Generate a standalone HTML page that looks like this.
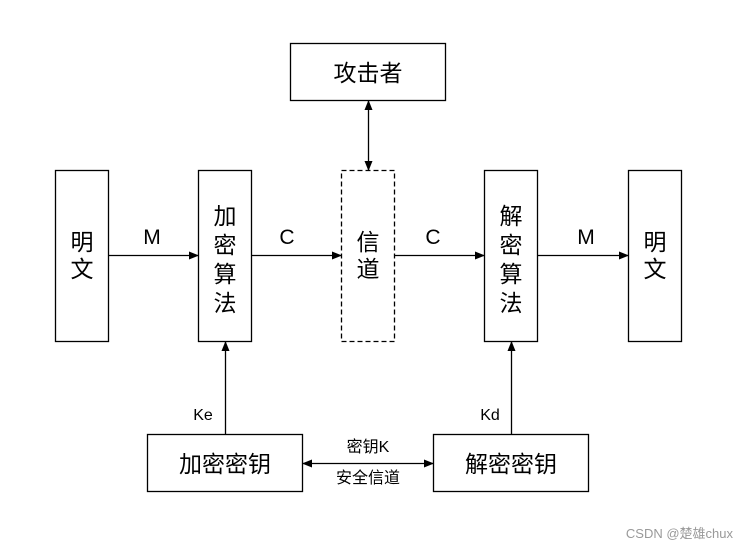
<!DOCTYPE html>
<html><head><meta charset="utf-8"><style>
html,body{margin:0;padding:0;background:#fff;}
svg text{font-family:"Liberation Sans","Noto Sans CJK SC",sans-serif;fill:#000;}
</style></head><body>
<svg width="747" height="551" viewBox="0 0 747 551" xmlns="http://www.w3.org/2000/svg">
<defs>
<marker id="a" markerWidth="10" markerHeight="8" refX="9" refY="4" orient="auto" markerUnits="userSpaceOnUse">
<path d="M0,0 L10,4 L0,8 Z" fill="#000"/></marker>
<marker id="b" markerWidth="10" markerHeight="8" refX="1" refY="4" orient="auto" markerUnits="userSpaceOnUse">
<path d="M10,0 L0,4 L10,8 Z" fill="#000"/></marker>
</defs>
<g fill="none" stroke="#000" stroke-width="1.3">
<rect x="290.5" y="43.5" width="155" height="57"/>
<rect x="55.5" y="170.5" width="53" height="171"/>
<rect x="198.5" y="170.5" width="53" height="171"/>
<rect x="341.5" y="170.5" width="53" height="171" stroke-dasharray="5,3"/>
<rect x="484.5" y="170.5" width="53" height="171"/>
<rect x="628.5" y="170.5" width="53" height="171"/>
<rect x="147.5" y="434.5" width="155" height="57"/>
<rect x="433.5" y="434.5" width="155" height="57"/>
<line x1="108" y1="255.5" x2="198" y2="255.5" marker-end="url(#a)"/>
<line x1="251" y1="255.5" x2="341" y2="255.5" marker-end="url(#a)"/>
<line x1="394" y1="255.5" x2="484" y2="255.5" marker-end="url(#a)"/>
<line x1="537" y1="255.5" x2="628" y2="255.5" marker-end="url(#a)"/>
<line x1="368.5" y1="101" x2="368.5" y2="170" marker-start="url(#b)" marker-end="url(#a)"/>
<line x1="225.5" y1="434" x2="225.5" y2="342" marker-end="url(#a)"/>
<line x1="511.5" y1="434" x2="511.5" y2="342" marker-end="url(#a)"/>
<line x1="303" y1="463.5" x2="433" y2="463.5" marker-start="url(#b)" marker-end="url(#a)"/>
</g>
<g font-size="23" text-anchor="middle">
<text x="368" y="81">攻击者</text>
<text x="82" y="250">明</text><text x="82" y="277">文</text>
<text x="225" y="224">加</text><text x="225" y="253">密</text><text x="225" y="282">算</text><text x="225" y="311">法</text>
<text x="368" y="250">信</text><text x="368" y="277">道</text>
<text x="511" y="224">解</text><text x="511" y="253">密</text><text x="511" y="282">算</text><text x="511" y="311">法</text>
<text x="655" y="250">明</text><text x="655" y="277">文</text>
<text x="225" y="472">加密密钥</text>
<text x="511" y="472">解密密钥</text>
</g>
<g font-size="21" text-anchor="middle">
<text x="152" y="244">M</text><text x="287" y="244">C</text>
<text x="433" y="244">C</text><text x="586" y="244">M</text>
</g>
<g font-size="16" text-anchor="middle">
<text x="203" y="420">Ke</text><text x="490" y="420">Kd</text>
<text x="368" y="452">密钥K</text><text x="368" y="483">安全信道</text>
</g>
<text x="733" y="538" font-size="13" text-anchor="end" style="fill:#999">CSDN @楚雄chux</text>
</svg>
</body></html>
